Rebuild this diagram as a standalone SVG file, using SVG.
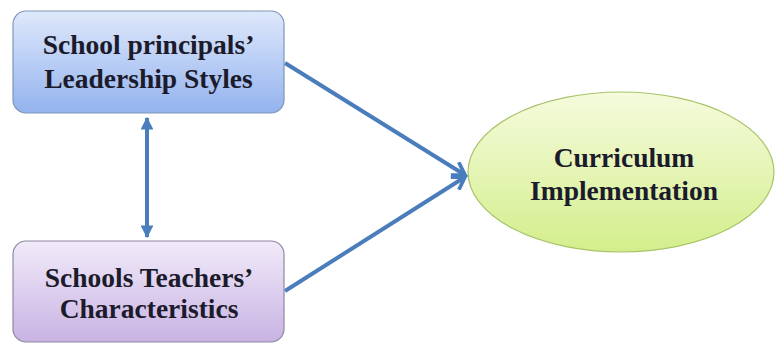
<svg xmlns="http://www.w3.org/2000/svg" width="777" height="344" viewBox="0 0 777 344">
<defs>
<linearGradient id="gb" x1="0" y1="0" x2="0" y2="1"><stop offset="0" stop-color="#dfe8fb"/><stop offset="1" stop-color="#93b3ee"/></linearGradient>
<linearGradient id="gp" x1="0" y1="0" x2="0" y2="1"><stop offset="0" stop-color="#f1eaf9"/><stop offset="1" stop-color="#c8b3e3"/></linearGradient>
<linearGradient id="gg" x1="0" y1="0" x2="0" y2="1"><stop offset="0" stop-color="#f5fbdd"/><stop offset="1" stop-color="#d4ee8c"/></linearGradient>
<marker id="open" viewBox="0 0 12 12" refX="10" refY="6" markerWidth="4.5" markerHeight="4.5" orient="auto" markerUnits="strokeWidth"><path d="M2,1 L10,6 L2,11" fill="none" stroke="#4a7dbb" stroke-width="2.5"/></marker>
<marker id="tri" viewBox="0 0 10 10" refX="9" refY="5" markerWidth="3.2" markerHeight="3.2" orient="auto-start-reverse" markerUnits="strokeWidth"><path d="M0,0 L10,5 L0,10 Z" fill="#4a7dbb"/></marker>
</defs>
<g id="connectors" stroke="#4a7dbb" stroke-width="4" fill="none">
<line x1="285" y1="63" x2="465" y2="175" marker-end="url(#open)"/>
<line x1="285" y1="291" x2="465" y2="177" marker-end="url(#open)"/>
<line x1="147" y1="118" x2="147" y2="237" marker-start="url(#tri)" marker-end="url(#tri)"/>
</g>
<g id="leadership">
<rect x="13" y="11" width="271" height="102" rx="13" fill="url(#gb)" stroke="#7f95b8" stroke-width="1.2"/>
<text x="148.5" y="54" font-family="Liberation Serif" font-size="27.5" font-weight="bold" fill="#1c1b2c" text-anchor="middle">School principals’</text>
<text x="148.5" y="88" font-family="Liberation Serif" font-size="27.5" font-weight="bold" fill="#1c1b2c" text-anchor="middle">Leadership Styles</text>
</g>
<g id="teachers">
<rect x="13" y="241" width="271" height="101" rx="13" fill="url(#gp)" stroke="#8f88a4" stroke-width="1.2"/>
<text x="149" y="287" font-family="Liberation Serif" font-size="27.5" font-weight="bold" fill="#1c1b2c" text-anchor="middle">Schools Teachers’</text>
<text x="149" y="318" font-family="Liberation Serif" font-size="27.5" font-weight="bold" fill="#1c1b2c" text-anchor="middle">Characteristics</text>
</g>
<g id="curriculum">
<ellipse cx="621" cy="172" rx="153" ry="80" fill="url(#gg)" stroke="#a7c46a" stroke-width="1.2"/>
<text x="624" y="167" font-family="Liberation Serif" font-size="27.5" font-weight="bold" fill="#1c1b2c" text-anchor="middle">Curriculum</text>
<text x="624" y="200" font-family="Liberation Serif" font-size="27.5" font-weight="bold" fill="#1c1b2c" text-anchor="middle">Implementation</text>
</g>
</svg>
